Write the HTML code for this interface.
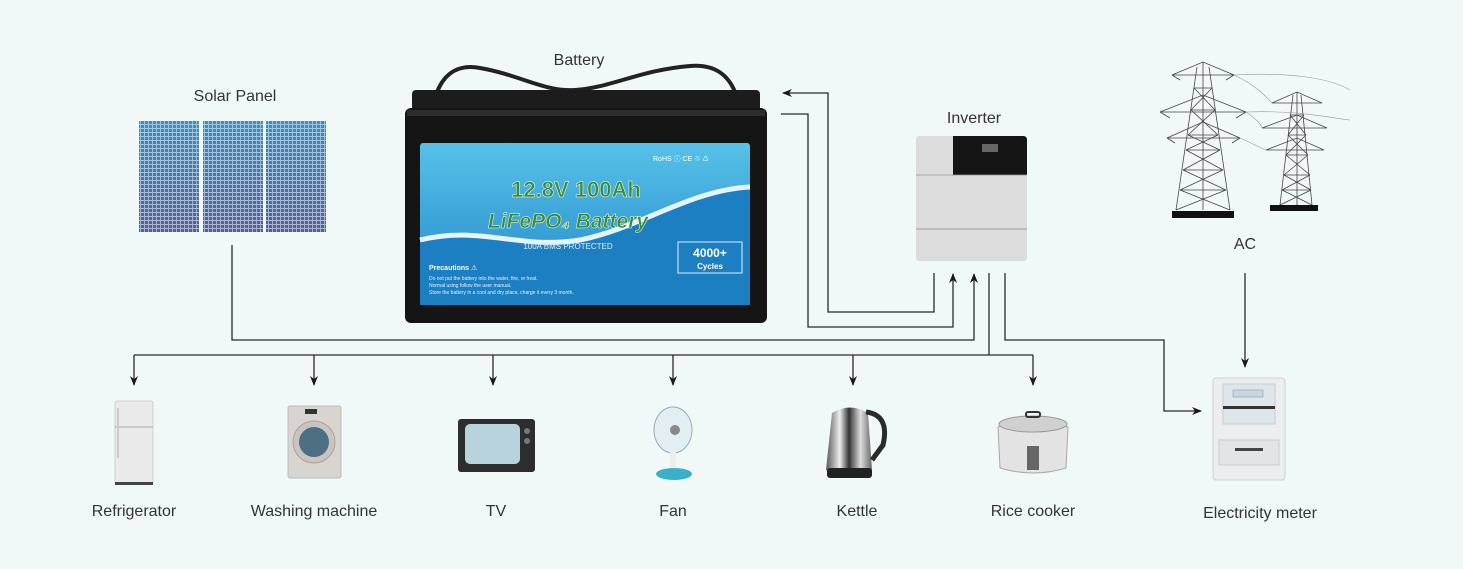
<!DOCTYPE html>
<html><head><meta charset="utf-8">
<style>
html,body{margin:0;padding:0;background:#f1f8f8;}
svg{display:block;font-family:"Liberation Sans","DejaVu Sans",sans-serif;}
.lbl{font-size:16px;fill:#333;text-anchor:middle;}
.ln{fill:none;stroke:#2a2a2a;stroke-width:1.3;}
</style></head><body>
<svg width="1463" height="569" viewBox="0 0 1463 569" xmlns="http://www.w3.org/2000/svg">
<defs>
<marker id="ar" markerWidth="10" markerHeight="10" refX="9" refY="5" orient="auto" markerUnits="userSpaceOnUse">
<path d="M0,1 L10,5 L0,9 L3,5 Z" fill="#1a1a1a"/></marker>
<pattern id="grid" width="4" height="4" patternUnits="userSpaceOnUse">
<path d="M0,0.5H4M0.5,0V4" stroke="#cfe3ef" stroke-width="0.9" opacity="0.7"/></pattern>
<linearGradient id="pg" x1="0" y1="0" x2="0" y2="1"><stop offset="0" stop-color="#3a8fbf"/><stop offset="1" stop-color="#5a5a98"/></linearGradient>
<linearGradient id="bl" x1="0" y1="0" x2="0" y2="1"><stop offset="0" stop-color="#57c1e8"/><stop offset="1" stop-color="#1f86c8"/></linearGradient>
<linearGradient id="st" x1="0" y1="0" x2="1" y2="0"><stop offset="0" stop-color="#555"/><stop offset="0.3" stop-color="#eee"/><stop offset="0.5" stop-color="#333"/><stop offset="0.75" stop-color="#ddd"/><stop offset="1" stop-color="#666"/></linearGradient>
</defs>
<rect width="1463" height="569" fill="#f1f8f8"/>

<!-- Solar panel -->
<text class="lbl" x="235" y="101">Solar Panel</text>
<g>
<rect x="139" y="121" width="60" height="111" fill="url(#pg)"/><rect x="139" y="121" width="60" height="111" fill="url(#grid)"/>
<rect x="203" y="121" width="60" height="111" fill="url(#pg)"/><rect x="203" y="121" width="60" height="111" fill="url(#grid)"/>
<rect x="266" y="121" width="60" height="111" fill="url(#pg)"/><rect x="266" y="121" width="60" height="111" fill="url(#grid)"/>
</g>

<!-- Battery -->
<text class="lbl" x="579" y="65">Battery</text>
<path d="M437,92 C445,72 460,64 480,68 C520,75 545,92 575,90 C610,88 640,70 690,66 C715,64 728,75 735,92" fill="none" stroke="#222" stroke-width="4"/>
<rect x="412" y="90" width="348" height="22" rx="4" fill="#1c1c1c"/>
<rect x="405" y="108" width="362" height="215" rx="6" fill="#151515"/>
<rect x="407" y="110" width="358" height="6" fill="#2c2c2c"/>
<rect x="420" y="143" width="330" height="162" rx="3" fill="url(#bl)"/>
<path d="M420,240 C480,225 520,250 580,240 C640,228 690,190 750,187 L750,305 L420,305 Z" fill="#1b7fc2"/>
<path d="M420,240 C480,225 520,250 580,240 C640,228 690,190 750,187" fill="none" stroke="#e6f3fa" stroke-width="5"/>
<text x="576" y="197" font-size="22" font-weight="bold" fill="#3a8a3a" stroke="#f0fff0" stroke-width="0.5" text-anchor="middle">12.8V  100Ah</text>
<text x="568" y="228" font-size="21" font-weight="bold" font-style="italic" fill="#3a8a3a" stroke="#f0fff0" stroke-width="0.5" text-anchor="middle">LiFePO₄  Battery</text>
<text x="568" y="249" font-size="8" fill="#dfeef8" text-anchor="middle">100A BMS PROTECTED</text>
<text x="653" y="161" font-size="7" fill="#fff">RoHS  ⓘ  CE  ♲  ♺</text>
<rect x="678" y="242" width="64" height="31" fill="none" stroke="#e0eef8" stroke-width="1"/>
<text x="710" y="257" font-size="12" font-weight="bold" fill="#fff" text-anchor="middle">4000+</text>
<text x="710" y="269" font-size="8" font-weight="bold" fill="#fff" text-anchor="middle">Cycles</text>
<text x="429" y="270" font-size="7" font-weight="bold" fill="#fff">Precautions ⚠</text>
<text x="429" y="280" font-size="5" fill="#e8f2fa">Do not put the battery into the water, fire, or heat.</text>
<text x="429" y="287" font-size="5" fill="#e8f2fa">Normal using follow the user manual.</text>
<text x="429" y="294" font-size="5" fill="#e8f2fa">Store the battery in a cool and dry place, charge it every 3 month.</text>

<!-- Inverter -->
<text class="lbl" x="974" y="123">Inverter</text>
<rect x="916" y="136" width="111" height="125" rx="3" fill="#dcdcdc"/>
<path d="M953,136 H1023 Q1027,136 1027,140 V175 H953 Z" fill="#141414"/>
<rect x="982" y="144" width="16" height="8" fill="#666"/>
<line x1="916" y1="175" x2="1027" y2="175" stroke="#999" stroke-width="0.8"/>
<line x1="916" y1="229" x2="1027" y2="229" stroke="#888" stroke-width="0.8"/>

<!-- Towers -->
<g stroke="#444" stroke-width="0.8" fill="none">
<!-- tower 1 -->
<path d="M1197,67 L1176,210 M1209,67 L1230,210 M1203,62 L1203,210"/>
<path d="M1194,88 L1212,88 M1191,110 L1215,110 M1188,135 L1218,135 M1186,150 L1220,150 M1183,170 L1223,170 M1180,190 L1226,190"/>
<path d="M1194,88 L1215,110 M1212,88 L1191,110 M1191,110 L1218,135 M1215,110 L1188,135 M1188,135 L1220,150 M1218,135 L1186,150 M1186,150 L1223,170 M1220,150 L1183,170 M1183,170 L1226,190 M1223,170 L1180,190 M1180,190 L1230,210 M1226,190 L1176,210"/>
<path d="M1172,75 L1234,75 L1203,62 Z M1160,112 L1246,112 L1203,95 Z M1167,138 L1240,138 L1203,122 Z"/>
<path d="M1172,75 L1180,80 M1234,75 L1226,80 M1160,112 L1170,118 M1246,112 L1236,118 M1167,138 L1175,143 M1240,138 L1232,143"/>
<!-- tower 2 -->
<path d="M1293,95 L1280,205 M1301,95 L1312,205 M1297,92 L1297,205"/>
<path d="M1290,115 L1304,115 M1288,135 L1306,135 M1286,155 L1308,155 M1284,175 L1310,175 M1282,190 L1311,190"/>
<path d="M1290,115 L1306,135 M1304,115 L1288,135 M1288,135 L1308,155 M1306,135 L1286,155 M1286,155 L1310,175 M1308,155 L1284,175 M1284,175 L1311,190 M1310,175 L1282,190 M1282,190 L1312,205 M1311,190 L1280,205"/>
<path d="M1272,103 L1322,103 L1297,92 Z M1262,128 L1327,128 L1297,115 Z M1266,150 L1324,150 L1297,138 Z"/>
</g>
<g stroke="#999" stroke-width="0.6" fill="none">
<path d="M1234,75 C1255,85 1265,95 1272,103 M1246,112 C1255,118 1262,125 1262,128 M1240,138 C1250,142 1260,148 1266,150 M1234,75 C1290,72 1330,78 1350,90 M1246,112 C1300,110 1330,118 1350,120"/>
</g>
<rect x="1172" y="211" width="62" height="7" fill="#111"/>
<rect x="1270" y="205" width="48" height="6" fill="#111"/>
<text class="lbl" x="1245" y="249">AC</text>

<!-- Connectors -->
<polyline class="ln" points="934,273 934,312 828,312 828,93 783,93" marker-end="url(#ar)"/>
<polyline class="ln" points="781,114 808,114 808,327 953,327 953,274" marker-end="url(#ar)"/>
<polyline class="ln" points="232,245 232,340 974,340 974,274" marker-end="url(#ar)"/>
<line class="ln" x1="989" y1="273" x2="989" y2="355"/>
<line class="ln" x1="134" y1="355" x2="1033" y2="355"/>
<line class="ln" x1="134" y1="355" x2="134" y2="385" marker-end="url(#ar)"/>
<line class="ln" x1="314" y1="355" x2="314" y2="385" marker-end="url(#ar)"/>
<line class="ln" x1="493" y1="355" x2="493" y2="385" marker-end="url(#ar)"/>
<line class="ln" x1="673" y1="355" x2="673" y2="385" marker-end="url(#ar)"/>
<line class="ln" x1="853" y1="355" x2="853" y2="385" marker-end="url(#ar)"/>
<line class="ln" x1="1033" y1="355" x2="1033" y2="385" marker-end="url(#ar)"/>
<polyline class="ln" points="1005,273 1005,340 1164,340 1164,411 1201,411" marker-end="url(#ar)"/>
<line class="ln" x1="1245" y1="273" x2="1245" y2="367" marker-end="url(#ar)"/>

<!-- Appliances -->
<rect x="115" y="401" width="38" height="83" rx="2" fill="#eaeaea" stroke="#cfcfcf"/>
<line x1="115" y1="427" x2="153" y2="427" stroke="#aaa"/>
<rect x="117" y="408" width="2" height="50" fill="#ccc"/>
<rect x="115" y="482" width="38" height="3" fill="#444"/>
<rect x="288" y="406" width="53" height="72" rx="2" fill="#d8d4cf" stroke="#bbb"/>
<rect x="305" y="409" width="12" height="5" fill="#333"/>
<circle cx="314" cy="442" r="21" fill="#c9c4bd" stroke="#a9a39a"/>
<circle cx="314" cy="442" r="15" fill="#4d6f86"/>
<rect x="458" y="419" width="77" height="53" rx="3" fill="#2d2d2d"/>
<rect x="465" y="424" width="55" height="40" rx="5" fill="#b9d3dd"/>
<circle cx="527" cy="431" r="3" fill="#777"/><circle cx="527" cy="441" r="3" fill="#777"/>
<ellipse cx="673" cy="430" rx="19" ry="23" fill="#e3eef2" stroke="#9ab"/>
<circle cx="675" cy="430" r="5" fill="#888"/>
<rect x="670" y="452" width="6" height="20" fill="#eee"/>
<ellipse cx="674" cy="474" rx="18" ry="6" fill="#3ab0c8"/>
<path d="M832,413 Q850,402 868,413 L872,470 Q850,478 826,470 Z" fill="url(#st)"/>
<path d="M866,412 Q890,415 883,445 L872,460" fill="none" stroke="#2a2a2a" stroke-width="5"/>
<rect x="827" y="468" width="45" height="10" rx="3" fill="#222"/>
<path d="M998,427 Q1033,412 1068,427 L1066,468 Q1033,478 1000,468 Z" fill="#e3e3e3" stroke="#aaa"/>
<ellipse cx="1033" cy="424" rx="34" ry="8" fill="#d0d0d0" stroke="#999"/>
<rect x="1026" y="412" width="14" height="5" rx="2" fill="none" stroke="#333" stroke-width="2"/>
<rect x="1027" y="446" width="12" height="24" fill="#666"/>
<rect x="1213" y="378" width="72" height="102" rx="3" fill="#ecedee" stroke="#d0d0d0"/>
<rect x="1223" y="384" width="52" height="40" fill="#dfe6ea" stroke="#ccc"/>
<rect x="1233" y="390" width="30" height="7" fill="#c7d6e4" stroke="#888" stroke-width="0.5"/>
<rect x="1223" y="406" width="52" height="3" fill="#333"/>
<rect x="1219" y="440" width="60" height="25" fill="#e2e4e5" stroke="#ccc"/>
<rect x="1235" y="448" width="28" height="3" fill="#444"/>

<!-- Labels -->
<text class="lbl" x="134" y="516">Refrigerator</text>
<text class="lbl" x="314" y="516">Washing machine</text>
<text class="lbl" x="496" y="516">TV</text>
<text class="lbl" x="673" y="516">Fan</text>
<text class="lbl" x="857" y="516">Kettle</text>
<text class="lbl" x="1033" y="516">Rice cooker</text>
<text class="lbl" x="1260" y="518">Electricity meter</text>
</svg>
</body></html>
